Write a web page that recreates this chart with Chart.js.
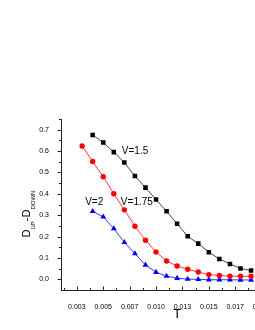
<!DOCTYPE html>
<html><head><meta charset="utf-8">
<style>html,body{margin:0;padding:0;overflow:hidden;background:#fff;width:255px;height:330px}canvas{display:block}</style>
<script src="https://cdn.jsdelivr.net/npm/chart.js@4/dist/chart.umd.min.js"></script>
</head><body>
<canvas id="c" width="310" height="330" style="width:310px;height:330px"></canvas>
<script>
// ---- data ----
const tempsV15 = [0.004,0.005,0.006,0.007,0.008,0.009,0.010,0.011,0.012,0.013,0.014,0.015,0.016,0.017,0.018,0.019];
const valuesV15 = [0.675,0.640,0.595,0.546,0.483,0.429,0.373,0.318,0.260,0.201,0.167,0.127,0.095,0.072,0.051,0.041];
const tempsV175 = [0.003,0.004,0.005,0.006,0.007,0.008,0.009,0.010,0.011,0.012,0.013,0.014,0.015,0.016,0.017,0.018,0.019];
const valuesV175 = [0.624,0.551,0.480,0.400,0.325,0.248,0.183,0.128,0.086,0.062,0.047,0.034,0.022,0.018,0.015,0.014,0.014];
const tempsV2 = [0.004,0.005,0.006,0.007,0.008,0.009,0.010,0.011,0.012,0.013,0.014,0.015,0.016,0.017,0.018,0.019];
const valuesV2 = [0.318,0.292,0.237,0.173,0.120,0.067,0.033,0.015,0.005,0.001,0.000,-0.002,-0.002,-0.002,-0.003,-0.003];
const seriesNames = ['V=1.5','V=1.75','V=2'];
const xTickValues = [0.0025,0.005,0.0075,0.010,0.0125,0.015,0.0175,0.020];
const xTickLabels = ['0.003','0.005','0.007','0.010','0.013','0.015','0.017','0.020'];
const yTickValues = [0.0,0.1,0.2,0.3,0.4,0.5,0.6,0.7];
const yTickLabels = ['0.0','0.1','0.2','0.3','0.4','0.5','0.6','0.7'];
const xTitle = 'T';
const yTitleParts = [['D',false],['UP',true],['-',false],['D',false],['DOWN',true]];

const FONT = "'Liberation Sans', Arial, sans-serif";
const pts = (ts, vs) => ts.map((t, i) => ({x: t, y: vs[i]}));

const tickMarks = {
  id: 'tickMarks',
  afterDraw(chart) {
    const {ctx, chartArea: a, scales: {x, y}} = chart;
    ctx.save();
    ctx.strokeStyle = '#222';
    ctx.lineWidth = 1;
    ctx.beginPath();
    yTickValues.forEach(v => {
      const p = Math.round(y.getPixelForValue(v)) + 0.5;
      ctx.moveTo(a.left, p); ctx.lineTo(a.left - 3.5, p);
      const pm = Math.round(y.getPixelForValue(v + 0.05)) + 0.5;
      ctx.moveTo(a.left, pm); ctx.lineTo(a.left - 2, pm);
    });
    xTickValues.forEach(v => {
      const p = Math.round(x.getPixelForValue(v)) + 0.5;
      ctx.moveTo(p, a.bottom); ctx.lineTo(p, a.bottom - 3.5);
      const pm = Math.round(x.getPixelForValue(v - 0.00125)) + 0.5;
      ctx.moveTo(pm, a.bottom); ctx.lineTo(pm, a.bottom - 2);
    });
    ctx.stroke();
    ctx.restore();
  }
};

const labelsPlugin = {
  id: 'seriesLabels',
  afterDatasetsDraw(chart) {
    const {ctx, scales: {x, y}} = chart;
    const anchors = [[0.00676, 0.585], [0.00667, 0.349], [0.00329, 0.349]];
    ctx.save();
    ctx.fillStyle = '#000';
    ctx.font = '10px ' + FONT;
    ctx.textBaseline = 'alphabetic';
    ctx.textAlign = 'left';
    seriesNames.forEach((n, i) => {
      ctx.fillText(n, x.getPixelForValue(anchors[i][0]), y.getPixelForValue(anchors[i][1]));
    });
    // y axis title with subscripts
    ctx.translate(30, 237.5);
    ctx.rotate(-Math.PI / 2);
    let cx = 0;
    yTitleParts.forEach(([txt, sub]) => {
      ctx.font = (sub ? '6px ' : '11px ') + FONT;
      ctx.fillText(txt, cx, sub ? 5 : 0);
      cx += ctx.measureText(txt).width;
    });
    ctx.restore();
  }
};

new Chart(document.getElementById('c'), {
  type: 'line',
  data: {
    datasets: [
      {label: seriesNames[0], data: pts(tempsV15, valuesV15), borderColor: '#333', backgroundColor: '#000',
       borderWidth: 0.9, pointStyle: 'rect', pointRadius: 3.2, pointBorderWidth: 0, tension: 0},
      {label: seriesNames[1], data: pts(tempsV175, valuesV175), borderColor: '#ff2020', backgroundColor: '#ff0000',
       borderWidth: 0.9, pointStyle: 'circle', pointRadius: 2.7, pointBorderWidth: 0, tension: 0},
      {label: seriesNames[2], data: pts(tempsV2, valuesV2), borderColor: '#2020ff', backgroundColor: '#0000ff',
       borderWidth: 0.9, pointStyle: 'triangle', pointRadius: 3.4, pointBorderWidth: 0, tension: 0}
    ]
  },
  options: {
    responsive: false,
    animation: false,
    devicePixelRatio: 1,
    layout: {padding: {top: 119, right: 16.7, bottom: 0, left: 0}},
    plugins: {legend: {display: false}, tooltip: {enabled: false}},
    scales: {
      x: {
        type: 'linear', min: 0.001, max: 0.023,
        grid: {display: false},
        border: {display: true, color: '#222', width: 1},
        afterBuildTicks: s => { s.ticks = xTickValues.map(v => ({value: v})); },
        afterFit: s => { s.height = 40; },
        ticks: {autoSkip: false, maxRotation: 0, minRotation: 0, padding: 5, color: '#000',
          font: {family: FONT, size: 7}, callback: (v, i) => xTickLabels[i]},
        title: {display: true, text: xTitle, color: '#000', font: {family: FONT, size: 13}, padding: {top: 0, bottom: 8}}
      },
      y: {
        type: 'linear', min: -0.05, max: 0.75,
        grid: {display: false},
        border: {display: true, color: '#222', width: 1},
        afterBuildTicks: s => { s.ticks = yTickValues.map(v => ({value: v})); },
        afterFit: s => { s.width = 61; },
        ticks: {autoSkip: false, padding: 4, color: '#000', font: {family: FONT, size: 7},
          callback: (v, i) => yTickLabels[i]}
      }
    }
  },
  plugins: [tickMarks, labelsPlugin]
});
</script>
</body></html>
